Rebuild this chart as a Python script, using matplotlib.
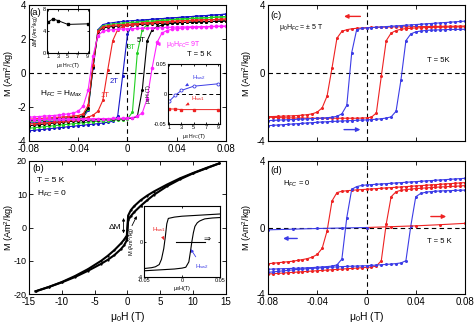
import numpy as np
import matplotlib.pyplot as plt

plt.rcParams['font.family'] = ['Liberation Sans', 'DejaVu Sans']
plt.rcParams['mathtext.fontset'] = 'custom'
plt.rcParams['mathtext.rm'] = 'Liberation Sans'
plt.rcParams['mathtext.it'] = 'Liberation Sans:italic'
plt.rcParams['axes.unicode_minus'] = False

W, H = 474, 323

# field grid (T) used by the low-field loops in (a), (c), (d)
h = [-0.080, -0.076, -0.072, -0.068, -0.064, -0.060, -0.056, -0.052, -0.048, -0.044,
     -0.040, -0.036, -0.032, -0.028, -0.024, -0.020, -0.016, -0.012, -0.008, -0.004,
     0.000, 0.004, 0.008, 0.012, 0.016, 0.020, 0.024, 0.028, 0.032, 0.036,
     0.040, 0.044, 0.048, 0.052, 0.056, 0.060, 0.064, 0.068, 0.072, 0.076, 0.080]

# (a) field-cooled loops, H_FC = H_max
a_2T_down = [-2.95, -2.92, -2.90, -2.88, -2.86, -2.84, -2.82, -2.80, -2.78, -2.75,
             -2.72, -2.62, -2.20, 0.30, 2.55, 2.85, 2.92, 2.96, 3.00, 3.03,
             3.06, 3.08, 3.10, 3.12, 3.14, 3.16, 3.18, 3.20, 3.22, 3.24,
             3.26, 3.28, 3.30, 3.32, 3.34, 3.36, 3.38, 3.40, 3.42, 3.44, 3.46]
a_2T_up = [-3.40, -3.37, -3.34, -3.31, -3.28, -3.25, -3.22, -3.19, -3.16, -3.13,
           -3.10, -3.07, -3.04, -3.01, -2.98, -2.94, -2.90, -2.84, -2.55, -0.20,
           2.30, 2.85, 3.02, 3.09, 3.13, 3.16, 3.18, 3.20, 3.22, 3.24,
           3.26, 3.28, 3.30, 3.32, 3.34, 3.36, 3.38, 3.40, 3.42, 3.44, 3.46]
a_3T_down = [-2.85, -2.83, -2.81, -2.79, -2.77, -2.75, -2.73, -2.71, -2.69, -2.66,
             -2.63, -2.55, -2.10, 0.40, 2.50, 2.78, 2.84, 2.88, 2.91, 2.94,
             2.96, 2.98, 3.00, 3.02, 3.04, 3.06, 3.08, 3.10, 3.12, 3.14,
             3.16, 3.18, 3.19, 3.21, 3.22, 3.24, 3.25, 3.27, 3.28, 3.30, 3.31]
a_3T_up = [-3.25, -3.22, -3.19, -3.16, -3.13, -3.10, -3.07, -3.04, -3.01, -2.98,
           -2.95, -2.92, -2.89, -2.86, -2.84, -2.82, -2.80, -2.78, -2.76, -2.74,
           -2.70, -2.30, 1.20, 2.55, 2.85, 2.98, 3.05, 3.09, 3.12, 3.14,
           3.16, 3.18, 3.19, 3.21, 3.22, 3.24, 3.25, 3.27, 3.28, 3.30, 3.31]
a_5T_down = [-2.80, -2.78, -2.76, -2.74, -2.72, -2.70, -2.68, -2.66, -2.64, -2.62,
             -2.59, -2.50, -2.05, 0.35, 2.40, 2.65, 2.70, 2.73, 2.76, 2.78,
             2.80, 2.82, 2.84, 2.86, 2.88, 2.89, 2.91, 2.92, 2.94, 2.95,
             2.96, 2.97, 2.98, 2.99, 3.00, 3.01, 3.02, 3.03, 3.04, 3.05, 3.06]
a_5T_up = [-3.10, -3.07, -3.04, -3.01, -2.98, -2.95, -2.92, -2.89, -2.86, -2.84,
           -2.82, -2.80, -2.78, -2.76, -2.74, -2.72, -2.71, -2.70, -2.69, -2.68,
           -2.67, -2.66, -2.55, -1.00, 1.90, 2.55, 2.72, 2.82, 2.88, 2.92,
           2.95, 2.97, 2.98, 2.99, 3.00, 3.01, 3.02, 3.03, 3.04, 3.05, 3.06]
a_1T_down = [-2.72, -2.70, -2.68, -2.66, -2.64, -2.62, -2.60, -2.58, -2.56, -2.53,
             -2.50, -2.40, -1.90, 0.50, 2.45, 2.72, 2.77, 2.80, 2.83, 2.85,
             2.87, 2.89, 2.91, 2.93, 2.95, 2.97, 2.99, 3.01, 3.02, 3.04,
             3.05, 3.07, 3.08, 3.10, 3.11, 3.12, 3.13, 3.14, 3.15, 3.16, 3.17]
a_1T_up = [-3.00, -2.98, -2.96, -2.94, -2.92, -2.90, -2.88, -2.85, -2.82, -2.78,
           -2.74, -2.68, -2.60, -2.48, -2.25, -1.60, 0.20, 1.90, 2.55, 2.72,
           2.80, 2.85, 2.89, 2.93, 2.95, 2.97, 2.99, 3.01, 3.02, 3.04,
           3.05, 3.07, 3.08, 3.10, 3.11, 3.12, 3.13, 3.14, 3.15, 3.16, 3.17]
a_9T_down = [-2.60, -2.58, -2.56, -2.54, -2.52, -2.50, -2.47, -2.44, -2.40, -2.35,
             -2.25, -1.95, -1.00, 1.00, 2.20, 2.45, 2.52, 2.55, 2.57, 2.59,
             2.60, 2.61, 2.62, 2.63, 2.64, 2.65, 2.66, 2.67, 2.68, 2.69,
             2.70, 2.71, 2.71, 2.72, 2.72, 2.73, 2.73, 2.74, 2.74, 2.75, 2.75]
a_9T_up = [-2.75, -2.74, -2.74, -2.73, -2.73, -2.72, -2.72, -2.71, -2.71, -2.70,
           -2.70, -2.70, -2.69, -2.69, -2.69, -2.68, -2.68, -2.67, -2.67, -2.66,
           -2.65, -2.62, -2.55, -2.35, -1.50, 0.30, 1.80, 2.35, 2.50, 2.57,
           2.61, 2.64, 2.66, 2.68, 2.70, 2.71, 2.72, 2.73, 2.74, 2.75, 2.75]

# (a) insets
hfc = [1, 2, 3, 5, 9]
dM = [5.6, 6.2, 5.9, 5.2, 5.3]
hsw1 = [-0.025, -0.025, -0.026, -0.026, -0.026]
hsw2 = [-0.012, -0.002, 0.006, 0.013, 0.017]

# (b) high-field loop, ZFC
b_h_down = [14, 12, 10, 8, 6, 4, 3, 2, 1, 0.5, 0.1, -0.1, -0.5, -1, -2, -3, -4, -6, -8, -10, -12, -14]
b_m_down = [19.3, 17.9, 16.4, 14.8, 12.9, 10.8, 9.6, 8.2, 6.4, 5.2, 3.6, -2.4, -3.6, -4.8, -6.8,
            -8.5, -10.0, -12.5, -14.6, -16.4, -17.9, -19.2]
b_h_up = [-14, -12, -10, -8, -6, -4, -3, -2, -1, -0.5, -0.1, 0.1, 0.5, 1, 2, 3, 4, 6, 8, 10, 12, 14]
b_m_up = [-19.2, -17.9, -16.5, -14.9, -13.0, -10.9, -9.7, -8.3, -6.5, -5.3, -3.8, 2.2, 3.4, 4.6,
          6.5, 8.2, 9.8, 12.4, 14.5, 16.3, 17.8, 19.3]
# (b) inset, low-field part
bi_h_down = [0.05, 0.04, 0.03, 0.02, 0.01, 0.0, -0.01, -0.018, -0.02, -0.022, -0.024, -0.027,
             -0.03, -0.035, -0.04, -0.05]
bi_m_down = [3.1, 3.05, 3.0, 2.95, 2.9, 2.85, 2.75, 2.6, 2.0, 0.5, -0.8, -2.0, -2.6, -2.85,
             -2.95, -3.05]
bi_h_up = [-0.05, -0.04, -0.03, -0.02, -0.01, 0.0, 0.005, 0.009, 0.011, 0.013, 0.015, 0.017,
           0.02, 0.023, 0.027, 0.03, 0.04, 0.05]
bi_m_up = [-3.3, -3.25, -3.2, -3.15, -3.1, -3.0, -2.9, -2.3, -1.2, 0.0, 1.0, 1.7, 2.1, 2.3,
           2.45, 2.55, 2.65, 2.7]

# (c) +/- 5 T field cooled
c_red_down = [-2.57, -2.56, -2.55, -2.54, -2.53, -2.52, -2.50, -2.48, -2.45, -2.40,
              -2.30, -2.05, -1.35, 0.30, 2.05, 2.45, 2.55, 2.60, 2.63, 2.65,
              2.67, 2.68, 2.69, 2.70, 2.70, 2.71, 2.71, 2.72, 2.72, 2.72,
              2.73, 2.73, 2.73, 2.74, 2.74, 2.74, 2.75, 2.75, 2.75, 2.76, 2.76]
c_red_up = [-2.60, -2.61, -2.62, -2.63, -2.64, -2.64, -2.65, -2.65, -2.66, -2.66,
            -2.66, -2.66, -2.66, -2.66, -2.66, -2.66, -2.66, -2.66, -2.66, -2.65,
            -2.64, -2.60, -2.35, -0.20, 1.90, 2.35, 2.50, 2.57, 2.61, 2.63,
            2.65, 2.66, 2.67, 2.68, 2.69, 2.69, 2.70, 2.70, 2.71, 2.71, 2.72]
c_blue_down = [-2.80, -2.79, -2.77, -2.76, -2.75, -2.74, -2.72, -2.71, -2.70, -2.68,
               -2.67, -2.65, -2.63, -2.60, -2.55, -2.40, -1.90, 1.20, 2.55, 2.62,
               2.65, 2.67, 2.69, 2.71, 2.73, 2.75, 2.77, 2.79, 2.81, 2.83,
               2.85, 2.87, 2.89, 2.91, 2.93, 2.95, 2.97, 2.99, 3.01, 3.03, 3.05]
c_blue_up = [-3.10, -3.08, -3.06, -3.04, -3.02, -3.00, -2.98, -2.96, -2.94, -2.92,
             -2.90, -2.88, -2.87, -2.85, -2.84, -2.82, -2.81, -2.80, -2.78, -2.77,
             -2.76, -2.74, -2.72, -2.69, -2.65, -2.58, -2.25, -0.40, 1.90, 2.30,
             2.42, 2.47, 2.50, 2.52, 2.53, 2.54, 2.55, 2.56, 2.56, 2.57, 2.57]

# (d) zero-field cooled
d_red_down = [-2.18, -2.15, -2.12, -2.09, -2.06, -2.03, -1.98, -1.93, -1.87, -1.78,
              -1.62, -1.25, -0.20, 1.60, 2.10, 2.18, 2.21, 2.24, 2.26, 2.28,
              2.30, 2.32, 2.34, 2.36, 2.38, 2.40, 2.42, 2.44, 2.46, 2.48,
              2.50, 2.52, 2.54, 2.56, 2.58, 2.60, 2.62, 2.64, 2.66, 2.68, 2.70]
d_red_up = [-2.80, -2.78, -2.76, -2.74, -2.72, -2.70, -2.68, -2.66, -2.64, -2.62,
            -2.60, -2.58, -2.56, -2.54, -2.52, -2.50, -2.48, -2.46, -2.44, -2.42,
            -2.40, -2.38, -2.32, -2.00, 0.20, 1.85, 2.15, 2.24, 2.28, 2.31,
            2.34, 2.36, 2.38, 2.40, 2.42, 2.44, 2.45, 2.47, 2.48, 2.50, 2.52]
d_blue_down = [-2.51, -2.50, -2.49, -2.48, -2.47, -2.46, -2.45, -2.44, -2.42, -2.41,
               -2.39, -2.37, -2.35, -2.32, -2.25, -1.90, 0.60, 2.30, 2.46, 2.53,
               2.56, 2.58, 2.60, 2.62, 2.64, 2.66, 2.68, 2.70, 2.72, 2.74,
               2.76, 2.78, 2.80, 2.82, 2.84, 2.86, 2.88, 2.90, 2.92, 2.94, 2.96]
d_blue_up = [-2.70, -2.67, -2.64, -2.61, -2.58, -2.55, -2.52, -2.50, -2.48, -2.46,
             -2.44, -2.42, -2.40, -2.38, -2.37, -2.35, -2.34, -2.33, -2.32, -2.31,
             -2.30, -2.28, -2.26, -2.24, -2.22, -2.20, -2.17, -2.13, -2.00, 0.10,
             1.85, 2.05, 2.12, 2.16, 2.18, 2.20, 2.21, 2.22, 2.23, 2.24, 2.25]
virg_pos_h = [0.0, 0.02, 0.04, 0.06, 0.08]
virg_pos_m = [0.0, 0.05, 0.10, 0.17, 0.25]
virg_neg_h = [0.0, -0.02, -0.04, -0.06, -0.08]
virg_neg_m = [0.0, -0.03, -0.06, -0.10, -0.14]

RED = '#ee2222'
BLUE = '#3c3ce6'
NAVY = '#1616c8'
GREEN = '#22d022'
MAG = '#ff22ff'


def rect(l, t, r, b):
    return [l / W, 1 - b / H, (r - l) / W, (b - t) / H]


def style(ax, fs=7, ln=3):
    ax.tick_params(direction='in', top=True, right=True, length=ln, width=0.6,
                   labelsize=fs, pad=2)
    for s in ax.spines.values():
        s.set_linewidth(0.8)


def zero_lines(ax):
    ax.axhline(0, color='k', ls=(0, (4, 3)), lw=0.8, zorder=0)
    ax.axvline(0, color='k', ls=(0, (4, 3)), lw=0.8, zorder=0)


def loop(ax, down, up, c, ms=2.2):
    ax.plot(h, down, '-o', color=c, lw=0.8, ms=ms, mew=0)
    ax.plot(h, up, '-o', color=c, lw=0.8, ms=ms, mew=0)


def arrow(ax, x0, x1, y, c):
    ax.annotate('', xy=(x1, y), xytext=(x0, y),
                arrowprops=dict(arrowstyle='-|>', color=c, lw=1.0, mutation_scale=6))


def main_ylabel(ax, x):
    ax.set_ylabel(ylab, fontsize=6.6)
    ax.yaxis.set_label_coords(x, 0.5)


fig = plt.figure(figsize=(W / 100, H / 100), dpi=100)
ylab = 'M (Am$^2$/kg)'
xt = [-0.08, -0.04, 0, 0.04, 0.08]
xtl = ['-0.08', '-0.04', '0', '0.04', '0.08']

# ---------------- (a)
ax = fig.add_axes(rect(29, 5, 226, 141))
zero_lines(ax)
loop(ax, a_2T_down, a_2T_up, NAVY)
loop(ax, a_3T_down, a_3T_up, GREEN)
loop(ax, a_5T_down, a_5T_up, 'k')
loop(ax, a_1T_down, a_1T_up, RED)
loop(ax, a_9T_down, a_9T_up, MAG, ms=2.6)
ax.set_xlim(-0.08, 0.08)
ax.set_ylim(-4, 4)
ax.set_xticks(xt, xtl)
ax.set_yticks([-4, -2, 0, 2, 4])
main_ylabel(ax, -0.068)
style(ax)
ax.text(-0.0795, 3.55, '(a)', fontsize=6.8, va='center')
ax.text(-0.071, -1.25, 'H$_{FC}$ = H$_{Max}$', fontsize=6, va='center')
ax.text(-0.018, -1.3, '1T', color=RED, fontsize=5.5, ha='center', va='center')
ax.text(-0.011, -0.5, '2T', color=NAVY, fontsize=5.5, ha='center', va='center')
ax.text(0.003, 1.5, '3T', color=GREEN, fontsize=5.5, ha='center', va='center')
ax.text(0.011, 1.9, '5T', color='k', fontsize=5.5, ha='center', va='center')
ax.annotate('μ$_0$H$_{FC}$= 9T', xy=(0.021, 1.7), xytext=(0.031, 1.7), color=MAG,
            fontsize=5, va='center',
            arrowprops=dict(arrowstyle='-|>', color=MAG, lw=0.7, mutation_scale=5))
ax.text(0.058, 1.1, 'T = 5 K', fontsize=5.5, ha='center', va='center')

ia = fig.add_axes(rect(47, 9, 89, 53))
ia.plot(hfc, dM, '-s', color='k', lw=0.7, ms=2)
ia.set_xlim(0.8, 9.3)
ia.set_ylim(0, 8)
ia.set_xticks([1, 3, 5, 7, 9])
ia.set_yticks([0, 4, 8])
ia.set_ylabel('ΔM (Am$^2$/kg)', fontsize=3.8, labelpad=1)
ia.set_xlabel('μ$_0$ H$_{FC}$(T)', fontsize=3.8, labelpad=1)
style(ia, fs=4, ln=1.5)
ia.tick_params(pad=1)

ib = fig.add_axes(rect(168, 64, 220, 124))
ib.axhline(0, color='k', ls=(0, (4, 3)), lw=0.7)
ib.plot(hfc, hsw2, '-o', color=BLUE, lw=0.7, ms=2.2, mfc='white', mew=0.6)
ib.plot(hfc, hsw1, '-s', color=RED, lw=0.7, ms=2)
ib.set_xlim(0.8, 9.3)
ib.set_ylim(-0.05, 0.05)
ib.set_xticks([1, 3, 5, 7, 9])
ib.set_yticks([-0.05, 0, 0.05], ['-0.05', '0', '0.05'])
ib.set_ylabel('μ$_0$ H (T)', fontsize=3.8, labelpad=1)
ib.set_xlabel('μ$_0$ H$_{FC}$(T)', fontsize=3.8, labelpad=1)
style(ib, fs=4, ln=1.5)
ib.tick_params(pad=1)
ib.annotate('H$_{sw2}$', xy=(3.6, 0.013), xytext=(4.8, 0.027), color=BLUE, fontsize=4.5,
            va='center', arrowprops=dict(arrowstyle='-|>', color=BLUE, lw=0.6, mutation_scale=4))
ib.annotate('H$_{sw1}$', xy=(3.3, -0.021), xytext=(4.6, -0.008), color=RED, fontsize=4.5,
            va='center', arrowprops=dict(arrowstyle='-|>', color=RED, lw=0.6, mutation_scale=4))

# ---------------- (b)
ax = fig.add_axes(rect(29, 161, 226, 294))
ax.plot(b_h_down, b_m_down, '-o', color='k', lw=1.5, ms=1.6, mew=0)
ax.plot(b_h_up, b_m_up, '-o', color='k', lw=1.5, ms=1.6, mew=0)
ax.set_xlim(-15, 15)
ax.set_ylim(-20, 20)
ax.set_xticks([-15, -10, -5, 0, 5, 10, 15])
ax.set_yticks([-20, -10, 0, 10, 20])
main_ylabel(ax, -0.068)
ax.set_xlabel('μ$_0$H (T)', fontsize=7.5, labelpad=2)
style(ax)
ax.tick_params(axis='y', labelsize=6.5, pad=1.5)
ax.text(-14.5, 17.8, '(b)', fontsize=6.8, va='center')
ax.text(-13.8, 14.1, 'T = 5 K', fontsize=6, va='center')
ax.text(-13.8, 10.1, 'H$_{FC}$ = 0', fontsize=6, va='center')
ax.text(-1.0, 0.0, 'ΔM', fontsize=6, ha='right', va='center')
ax.annotate('', xy=(-0.6, 3.7), xytext=(-0.6, -2.6),
            arrowprops=dict(arrowstyle='<|-|>', color='k', lw=0.6, mutation_scale=4))
ax.annotate('', xy=(1.6, 4.2), xytext=(0.5, -0.2),
            arrowprops=dict(arrowstyle='-|>', color='k', lw=0.6, mutation_scale=4))

ic = fig.add_axes(rect(144, 206, 220, 277))
ic.plot(bi_h_down, bi_m_down, '-', color='k', lw=0.8)
ic.plot(bi_h_up, bi_m_up, '-', color='k', lw=0.8)
ic.plot([-0.008, 0.03], [0, 0], '-', color='k', lw=0.8)
ic.text(0.033, 0.35, '⇒', fontsize=6, family='DejaVu Sans', ha='center', va='center')
ic.set_xlim(-0.05, 0.05)
ic.set_ylim(-4, 4)
ic.set_xticks([-0.05, 0, 0.05], ['-0.05', '0', '0.05'])
ic.set_yticks([-4, 0, 4])
ic.set_ylabel(ylab, fontsize=4, labelpad=0.5)
ic.set_xlabel('μ$_0$H(T)', fontsize=4, labelpad=0.5)
style(ic, fs=4, ln=1.5)
ic.tick_params(pad=0.8)
ic.annotate('H$_{sw1}$', xy=(-0.022, -0.1), xytext=(-0.039, 1.3), color=RED, fontsize=4.5,
            va='center', arrowprops=dict(arrowstyle='-|>', color=RED, lw=0.6, mutation_scale=4))
ic.annotate('H$_{sw2}$', xy=(0.0095, -0.6), xytext=(0.017, -2.8), color=BLUE, fontsize=4.5,
            va='center', arrowprops=dict(arrowstyle='-|>', color=BLUE, lw=0.6, mutation_scale=4))

# ---------------- (c)
ax = fig.add_axes(rect(268, 5, 465, 141))
zero_lines(ax)
loop(ax, c_red_down, c_red_up, RED)
loop(ax, c_blue_down, c_blue_up, BLUE)
ax.set_xlim(-0.08, 0.08)
ax.set_ylim(-4, 4)
ax.set_xticks(xt, [])
ax.set_yticks([-4, 0, 4])
main_ylabel(ax, -0.07)
style(ax)
ax.text(-0.078, 3.4, '(c)', fontsize=6.8, va='center')
ax.text(-0.053, 2.65, 'μ$_0$H$_{FC}$ = ± 5 T', fontsize=5, ha='center', va='center')
ax.text(0.058, 0.75, 'T = 5K', fontsize=5.5, ha='center', va='center')
arrow(ax, -0.0027, -0.0205, 3.33, RED)
arrow(ax, -0.0205, -0.0027, -3.33, BLUE)

# ---------------- (d)
ax = fig.add_axes(rect(268, 161, 465, 294))
zero_lines(ax)
loop(ax, d_red_down, d_red_up, RED)
loop(ax, d_blue_down, d_blue_up, BLUE)
ax.plot(virg_pos_h, virg_pos_m, '-o', color=RED, lw=0.8, ms=2.2, mew=0)
ax.plot(virg_neg_h, virg_neg_m, '-o', color=BLUE, lw=0.8, ms=2.2, mew=0)
ax.set_xlim(-0.08, 0.08)
ax.set_ylim(-4, 4)
ax.set_xticks(xt, xtl)
ax.set_yticks([-4, 0, 4])
main_ylabel(ax, -0.07)
ax.set_xlabel('μ$_0$H (T)', fontsize=7.5, labelpad=2)
style(ax)
ax.text(-0.078, 3.4, '(d)', fontsize=6.8, va='center')
ax.text(-0.068, 2.6, 'H$_{FC}$ = 0', fontsize=5.5, va='center')
ax.text(0.059, -0.85, 'T = 5 K', fontsize=5.5, ha='center', va='center')
arrow(ax, 0.050, 0.067, 0.66, RED)
arrow(ax, -0.054, -0.070, -0.66, BLUE)

fig.savefig('out.png', dpi=100)
